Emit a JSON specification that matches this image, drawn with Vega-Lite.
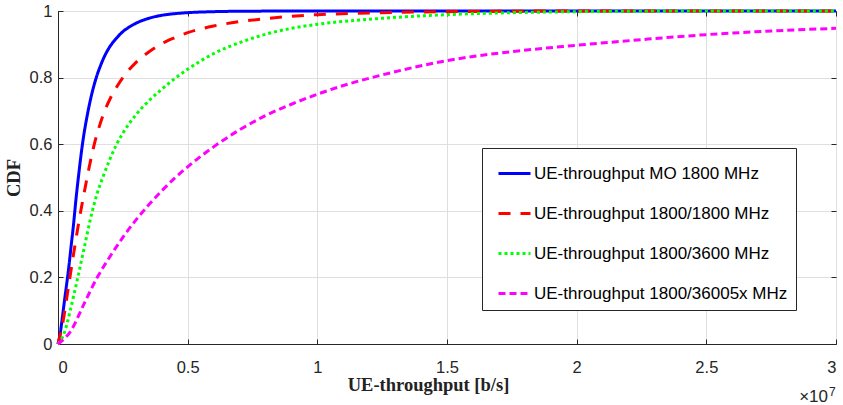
{
  "$schema": "https://vega.github.io/schema/vega-lite/v6.json",
  "width": 778,
  "height": 333,
  "autosize": {"type": "none"},
  "padding": {"left": 58, "top": 11, "right": 7, "bottom": 61},
  "background": "white",
  "config": {
    "view": {"stroke": "#262626", "strokeWidth": 1}
  },
  "datasets": {
    "curves": [
      {"s": "UE-throughput MO 1800 MHz", "x": 0, "cdf": 0},
      {"s": "UE-throughput MO 1800 MHz", "x": 0.01, "cdf": 0.04},
      {"s": "UE-throughput MO 1800 MHz", "x": 0.02, "cdf": 0.1},
      {"s": "UE-throughput MO 1800 MHz", "x": 0.03, "cdf": 0.16},
      {"s": "UE-throughput MO 1800 MHz", "x": 0.04, "cdf": 0.22},
      {"s": "UE-throughput MO 1800 MHz", "x": 0.05, "cdf": 0.29},
      {"s": "UE-throughput MO 1800 MHz", "x": 0.06, "cdf": 0.36},
      {"s": "UE-throughput MO 1800 MHz", "x": 0.07, "cdf": 0.44},
      {"s": "UE-throughput MO 1800 MHz", "x": 0.08, "cdf": 0.51},
      {"s": "UE-throughput MO 1800 MHz", "x": 0.09, "cdf": 0.575},
      {"s": "UE-throughput MO 1800 MHz", "x": 0.1, "cdf": 0.63},
      {"s": "UE-throughput MO 1800 MHz", "x": 0.11, "cdf": 0.675},
      {"s": "UE-throughput MO 1800 MHz", "x": 0.12, "cdf": 0.715},
      {"s": "UE-throughput MO 1800 MHz", "x": 0.13, "cdf": 0.75},
      {"s": "UE-throughput MO 1800 MHz", "x": 0.14, "cdf": 0.78},
      {"s": "UE-throughput MO 1800 MHz", "x": 0.15, "cdf": 0.806},
      {"s": "UE-throughput MO 1800 MHz", "x": 0.165, "cdf": 0.838},
      {"s": "UE-throughput MO 1800 MHz", "x": 0.18, "cdf": 0.865},
      {"s": "UE-throughput MO 1800 MHz", "x": 0.2, "cdf": 0.893},
      {"s": "UE-throughput MO 1800 MHz", "x": 0.225, "cdf": 0.918},
      {"s": "UE-throughput MO 1800 MHz", "x": 0.25, "cdf": 0.938},
      {"s": "UE-throughput MO 1800 MHz", "x": 0.275, "cdf": 0.952},
      {"s": "UE-throughput MO 1800 MHz", "x": 0.3, "cdf": 0.963},
      {"s": "UE-throughput MO 1800 MHz", "x": 0.35, "cdf": 0.978},
      {"s": "UE-throughput MO 1800 MHz", "x": 0.4, "cdf": 0.987},
      {"s": "UE-throughput MO 1800 MHz", "x": 0.45, "cdf": 0.992},
      {"s": "UE-throughput MO 1800 MHz", "x": 0.5, "cdf": 0.995},
      {"s": "UE-throughput MO 1800 MHz", "x": 0.6, "cdf": 0.998},
      {"s": "UE-throughput MO 1800 MHz", "x": 0.75, "cdf": 0.9995},
      {"s": "UE-throughput MO 1800 MHz", "x": 1.0, "cdf": 1},
      {"s": "UE-throughput MO 1800 MHz", "x": 3.0, "cdf": 1},
      {"s": "UE-throughput 1800/1800 MHz", "x": 0, "cdf": 0},
      {"s": "UE-throughput 1800/1800 MHz", "x": 0.02, "cdf": 0.07},
      {"s": "UE-throughput 1800/1800 MHz", "x": 0.04, "cdf": 0.17},
      {"s": "UE-throughput 1800/1800 MHz", "x": 0.06, "cdf": 0.27},
      {"s": "UE-throughput 1800/1800 MHz", "x": 0.08, "cdf": 0.365},
      {"s": "UE-throughput 1800/1800 MHz", "x": 0.1, "cdf": 0.45},
      {"s": "UE-throughput 1800/1800 MHz", "x": 0.12, "cdf": 0.53},
      {"s": "UE-throughput 1800/1800 MHz", "x": 0.14, "cdf": 0.6},
      {"s": "UE-throughput 1800/1800 MHz", "x": 0.16, "cdf": 0.655},
      {"s": "UE-throughput 1800/1800 MHz", "x": 0.18, "cdf": 0.7},
      {"s": "UE-throughput 1800/1800 MHz", "x": 0.2, "cdf": 0.735},
      {"s": "UE-throughput 1800/1800 MHz", "x": 0.225, "cdf": 0.77},
      {"s": "UE-throughput 1800/1800 MHz", "x": 0.25, "cdf": 0.8},
      {"s": "UE-throughput 1800/1800 MHz", "x": 0.3, "cdf": 0.845},
      {"s": "UE-throughput 1800/1800 MHz", "x": 0.35, "cdf": 0.877},
      {"s": "UE-throughput 1800/1800 MHz", "x": 0.4, "cdf": 0.902},
      {"s": "UE-throughput 1800/1800 MHz", "x": 0.45, "cdf": 0.92},
      {"s": "UE-throughput 1800/1800 MHz", "x": 0.5, "cdf": 0.935},
      {"s": "UE-throughput 1800/1800 MHz", "x": 0.6, "cdf": 0.955},
      {"s": "UE-throughput 1800/1800 MHz", "x": 0.7, "cdf": 0.968},
      {"s": "UE-throughput 1800/1800 MHz", "x": 0.8, "cdf": 0.977},
      {"s": "UE-throughput 1800/1800 MHz", "x": 0.9, "cdf": 0.984},
      {"s": "UE-throughput 1800/1800 MHz", "x": 1.0, "cdf": 0.989},
      {"s": "UE-throughput 1800/1800 MHz", "x": 1.2, "cdf": 0.994},
      {"s": "UE-throughput 1800/1800 MHz", "x": 1.4, "cdf": 0.997},
      {"s": "UE-throughput 1800/1800 MHz", "x": 1.7, "cdf": 0.999},
      {"s": "UE-throughput 1800/1800 MHz", "x": 2.0, "cdf": 1},
      {"s": "UE-throughput 1800/1800 MHz", "x": 3.0, "cdf": 1},
      {"s": "UE-throughput 1800/3600 MHz", "x": 0, "cdf": 0},
      {"s": "UE-throughput 1800/3600 MHz", "x": 0.025, "cdf": 0.035},
      {"s": "UE-throughput 1800/3600 MHz", "x": 0.05, "cdf": 0.11},
      {"s": "UE-throughput 1800/3600 MHz", "x": 0.075, "cdf": 0.195},
      {"s": "UE-throughput 1800/3600 MHz", "x": 0.1, "cdf": 0.285},
      {"s": "UE-throughput 1800/3600 MHz", "x": 0.125, "cdf": 0.375},
      {"s": "UE-throughput 1800/3600 MHz", "x": 0.15, "cdf": 0.45},
      {"s": "UE-throughput 1800/3600 MHz", "x": 0.175, "cdf": 0.505},
      {"s": "UE-throughput 1800/3600 MHz", "x": 0.2, "cdf": 0.555},
      {"s": "UE-throughput 1800/3600 MHz", "x": 0.225, "cdf": 0.598},
      {"s": "UE-throughput 1800/3600 MHz", "x": 0.25, "cdf": 0.633},
      {"s": "UE-throughput 1800/3600 MHz", "x": 0.3, "cdf": 0.688},
      {"s": "UE-throughput 1800/3600 MHz", "x": 0.35, "cdf": 0.73},
      {"s": "UE-throughput 1800/3600 MHz", "x": 0.4, "cdf": 0.765},
      {"s": "UE-throughput 1800/3600 MHz", "x": 0.45, "cdf": 0.797},
      {"s": "UE-throughput 1800/3600 MHz", "x": 0.5, "cdf": 0.825},
      {"s": "UE-throughput 1800/3600 MHz", "x": 0.55, "cdf": 0.85},
      {"s": "UE-throughput 1800/3600 MHz", "x": 0.6, "cdf": 0.872},
      {"s": "UE-throughput 1800/3600 MHz", "x": 0.7, "cdf": 0.905},
      {"s": "UE-throughput 1800/3600 MHz", "x": 0.8, "cdf": 0.93},
      {"s": "UE-throughput 1800/3600 MHz", "x": 0.9, "cdf": 0.948},
      {"s": "UE-throughput 1800/3600 MHz", "x": 1.0, "cdf": 0.96},
      {"s": "UE-throughput 1800/3600 MHz", "x": 1.25, "cdf": 0.978},
      {"s": "UE-throughput 1800/3600 MHz", "x": 1.5, "cdf": 0.989},
      {"s": "UE-throughput 1800/3600 MHz", "x": 1.75, "cdf": 0.995},
      {"s": "UE-throughput 1800/3600 MHz", "x": 2.0, "cdf": 0.998},
      {"s": "UE-throughput 1800/3600 MHz", "x": 2.5, "cdf": 1},
      {"s": "UE-throughput 1800/3600 MHz", "x": 3.0, "cdf": 1},
      {"s": "UE-throughput 1800/36005x MHz", "x": 0, "cdf": 0},
      {"s": "UE-throughput 1800/36005x MHz", "x": 0.05, "cdf": 0.04},
      {"s": "UE-throughput 1800/36005x MHz", "x": 0.1, "cdf": 0.12},
      {"s": "UE-throughput 1800/36005x MHz", "x": 0.15, "cdf": 0.198},
      {"s": "UE-throughput 1800/36005x MHz", "x": 0.2, "cdf": 0.262},
      {"s": "UE-throughput 1800/36005x MHz", "x": 0.25, "cdf": 0.32},
      {"s": "UE-throughput 1800/36005x MHz", "x": 0.3, "cdf": 0.372},
      {"s": "UE-throughput 1800/36005x MHz", "x": 0.35, "cdf": 0.418},
      {"s": "UE-throughput 1800/36005x MHz", "x": 0.4, "cdf": 0.46},
      {"s": "UE-throughput 1800/36005x MHz", "x": 0.45, "cdf": 0.498},
      {"s": "UE-throughput 1800/36005x MHz", "x": 0.5, "cdf": 0.532},
      {"s": "UE-throughput 1800/36005x MHz", "x": 0.6, "cdf": 0.592},
      {"s": "UE-throughput 1800/36005x MHz", "x": 0.7, "cdf": 0.643},
      {"s": "UE-throughput 1800/36005x MHz", "x": 0.8, "cdf": 0.686},
      {"s": "UE-throughput 1800/36005x MHz", "x": 0.9, "cdf": 0.72},
      {"s": "UE-throughput 1800/36005x MHz", "x": 1.0, "cdf": 0.75},
      {"s": "UE-throughput 1800/36005x MHz", "x": 1.125, "cdf": 0.782},
      {"s": "UE-throughput 1800/36005x MHz", "x": 1.25, "cdf": 0.808},
      {"s": "UE-throughput 1800/36005x MHz", "x": 1.5, "cdf": 0.851},
      {"s": "UE-throughput 1800/36005x MHz", "x": 1.75, "cdf": 0.878},
      {"s": "UE-throughput 1800/36005x MHz", "x": 2.0, "cdf": 0.897},
      {"s": "UE-throughput 1800/36005x MHz", "x": 2.25, "cdf": 0.914},
      {"s": "UE-throughput 1800/36005x MHz", "x": 2.5, "cdf": 0.929},
      {"s": "UE-throughput 1800/36005x MHz", "x": 2.75, "cdf": 0.94},
      {"s": "UE-throughput 1800/36005x MHz", "x": 3.0, "cdf": 0.948}
    ]
  },
  "resolve": {"axis": {"x": "independent", "y": "independent"}},
  "layer": [
    {
      "data": {"name": "curves"},
      "mark": {"type": "line", "strokeWidth": 3, "strokeCap": "butt", "interpolate": "monotone", "clip": false},
      "encoding": {
        "x": {
          "field": "x", "type": "quantitative",
          "scale": {"domain": [0, 3], "nice": false, "zero": false},
          "axis": {
            "values": [0, 0.5, 1, 1.5, 2, 2.5, 3], "format": "~g",
            "grid": true, "gridColor": "#dfdfdf", "tickSize": -5, "labelPadding": 20,
            "domainColor": "#262626", "tickColor": "#262626",
            "labelFont": "Liberation Sans", "labelFontSize": 16.5, "labelColor": "#262626",
            "title": "UE-throughput [b/s]", "titleColor": "#222222",
            "titleFont": "Liberation Serif", "titleFontWeight": "bold", "titleFontSize": 18.5,
            "titleX": 370, "titleY": 46, "titleAlign": "center", "titleBaseline": "alphabetic"
          }
        },
        "y": {
          "field": "cdf", "type": "quantitative",
          "scale": {"domain": [0, 1], "nice": false},
          "axis": {
            "values": [0, 0.2, 0.4, 0.6, 0.8, 1], "format": "~g",
            "grid": true, "gridColor": "#dfdfdf", "tickSize": -5, "labelPadding": 11,
            "domainColor": "#262626", "tickColor": "#262626",
            "labelFont": "Liberation Sans", "labelFontSize": 16.5, "labelColor": "#262626",
            "title": "CDF", "titleColor": "#222222",
            "titleFont": "Liberation Serif", "titleFontWeight": "bold", "titleFontSize": 18.5,
            "titleAngle": 270, "titleX": -45, "titleY": 166.5, "titleAlign": "center", "titleBaseline": "middle"
          }
        },
        "color": {
          "field": "s", "type": "nominal",
          "scale": {
            "domain": ["UE-throughput MO 1800 MHz", "UE-throughput 1800/1800 MHz", "UE-throughput 1800/3600 MHz", "UE-throughput 1800/36005x MHz"],
            "range": ["#0000ff", "#ff0000", "#00ff00", "#ff00ff"]
          },
          "legend": {
            "title": null, "orient": "none", "legendX": 424, "legendY": 137,
            "fillColor": "white", "strokeColor": "#262626", "padding": 8,
            "rowPadding": 14, "symbolSize": 1024, "symbolStrokeWidth": 3, "symbolOffset": 7,
            "labelOffset": 2, "labelFont": "Liberation Sans", "labelFontSize": 17,
            "labelColor": "#000000", "labelLimit": 400
          }
        },
        "strokeDash": {
          "field": "s", "type": "nominal",
          "scale": {
            "domain": ["UE-throughput MO 1800 MHz", "UE-throughput 1800/1800 MHz", "UE-throughput 1800/3600 MHz", "UE-throughput 1800/36005x MHz"],
            "range": [[1, 0], [12, 10], [3, 3], [7, 4]]
          },
          "legend": {
            "title": null, "orient": "none", "legendX": 424, "legendY": 137,
            "fillColor": "white", "strokeColor": "#262626", "padding": 8,
            "rowPadding": 14, "symbolSize": 1024, "symbolStrokeWidth": 3, "symbolOffset": 7,
            "labelOffset": 2, "labelFont": "Liberation Sans", "labelFontSize": 17,
            "labelColor": "#000000", "labelLimit": 400
          }
        }
      }
    },
    {
      "data": {"values": [{"t": "×10"}]},
      "mark": {"type": "text", "align": "right", "baseline": "alphabetic", "dx": -8, "dy": 58, "fontSize": 17, "font": "Liberation Sans", "color": "#262626"},
      "encoding": {
        "x": {"datum": 3, "type": "quantitative", "axis": {"orient": "top", "values": [0, 0.5, 1, 1.5, 2, 2.5, 3], "labels": false, "title": null, "grid": false, "domain": false, "tickSize": -5, "tickColor": "#262626"}},
        "y": {"datum": 0, "type": "quantitative", "axis": {"orient": "right", "values": [0, 0.2, 0.4, 0.6, 0.8, 1], "labels": false, "title": null, "grid": false, "domain": false, "tickSize": -5, "tickColor": "#262626"}},
        "text": {"field": "t"}
      }
    },
    {
      "data": {"values": [{"t": "7"}]},
      "mark": {"type": "text", "align": "left", "baseline": "alphabetic", "dx": -7, "dy": 52, "fontSize": 12, "font": "Liberation Sans", "color": "#262626"},
      "encoding": {
        "x": {"datum": 3, "type": "quantitative", "axis": null},
        "y": {"datum": 0, "type": "quantitative", "axis": null},
        "text": {"field": "t"}
      }
    }
  ]
}
